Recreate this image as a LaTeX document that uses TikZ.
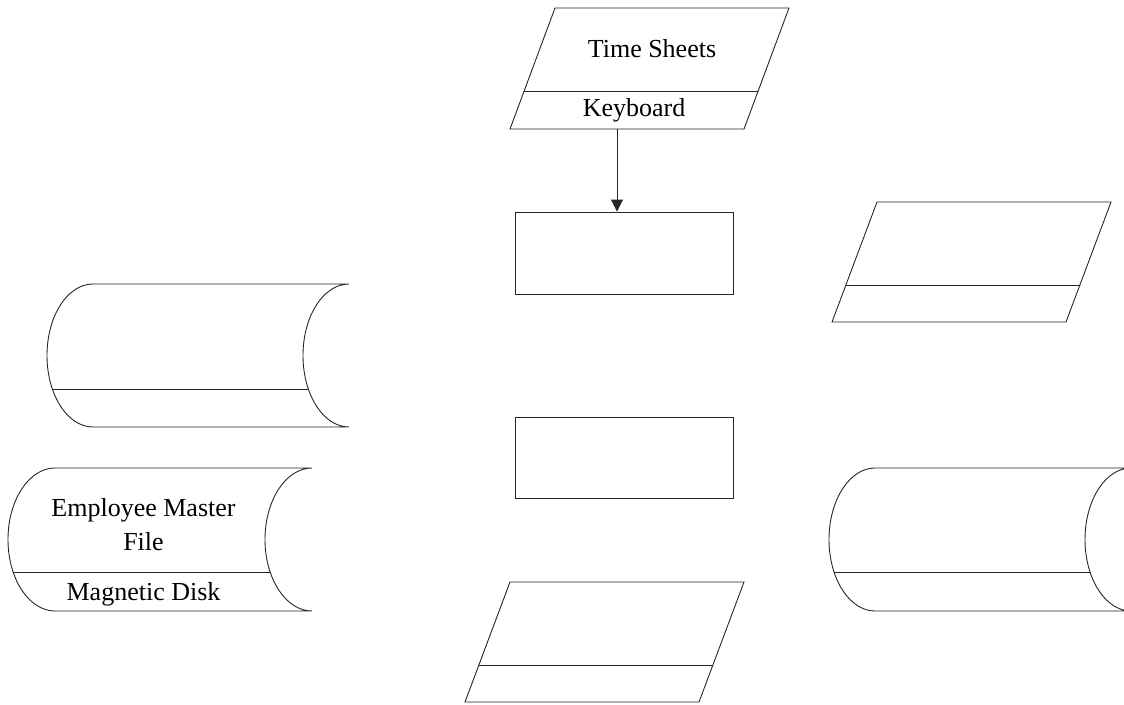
\documentclass[tikz,border=0pt]{standalone}
\usepackage{fontspec}
\setmainfont{Liberation Serif}
\usetikzlibrary{arrows.meta}
% disk symbol: #1 = x of top-left flat start, #2 = top y, #3 = x of right end, #4 = divider y, #5 = arc x radius
\newcommand\mydisk[5]{%
  \begin{scope}
    \clip (#1,#2) arc[start angle=90,end angle=270,x radius=#5pt,y radius=71.5pt]
      -- (#3,#2+143) arc[start angle=270,end angle=90,x radius=#5pt,y radius=71.5pt] -- cycle;
    \draw[divline] (#1-80,#4) -- (#3,#4);
  \end{scope}
  \draw[outline] (#1,#2) arc[start angle=90,end angle=270,x radius=#5pt,y radius=71.5pt]
      -- (#3,#2+143) arc[start angle=270,end angle=90,x radius=#5pt,y radius=71.5pt] -- cycle;
}
% input/output symbol: #1 = bottom-left x, #2 = bottom y, #3 = top y, #4 = divider y
\newcommand\myio[4]{%
  \begin{scope}
    \clip (#1,#2) -- (#1+45,#3) -- (#1+279,#3) -- (#1+234,#2) -- cycle;
    \draw[divline] (#1-10,#4) -- (#1+300,#4);
  \end{scope}
  \draw[outline] (#1,#2) -- (#1+45,#3) -- (#1+279,#3) -- (#1+234,#2) -- cycle;
}
\begin{document}
\begin{tikzpicture}[x=1pt,y=-1pt,
  outline/.style={draw=black!85, line width=0.9pt, line join=miter},
  divline/.style={draw=black!85, line width=0.9pt},
  lbl/.style={font=\fontsize{26}{34}\selectfont, inner sep=0pt, align=center},
  procbox/.style={draw=black!85, line width=0.9pt, minimum width=218pt, minimum height=82pt, inner sep=0pt},
  arr/.style={draw=black!85, line width=0.9pt, -{Triangle[width=12pt,length=12pt]}}]
\useasboundingbox (0,0) rectangle (1124,704);
\clip (0,0) rectangle (1124,704);

% input documents / outputs
\myio{510}{129}{8}{91}
\myio{832}{322}{202}{285}
\myio{465}{702}{582}{665}

% disks
\mydisk{93}{284}{349}{389}{46}
\mydisk{55}{468}{312}{572}{47}
\mydisk{875}{468}{1131}{572}{46}

% process boxes
\node[procbox] (r1) at (624,253) {};
\node[procbox, minimum height=81pt] (r2) at (624,457.5) {};

% labels
\node[lbl, anchor=base] (ts) at (652,57) {Time Sheets};
\node[lbl, anchor=base] (kb) at (634,116) {Keyboard};
\node[lbl] (emf) at (143.5,524.5) {Employee Master\\File};
\node[lbl, anchor=base] (md) at (143.5,600) {Magnetic Disk};

% connector
\coordinate (kbout) at (617,129);
\draw[arr] (kbout) -- (kbout |- r1.north);
\end{tikzpicture}
\end{document}
